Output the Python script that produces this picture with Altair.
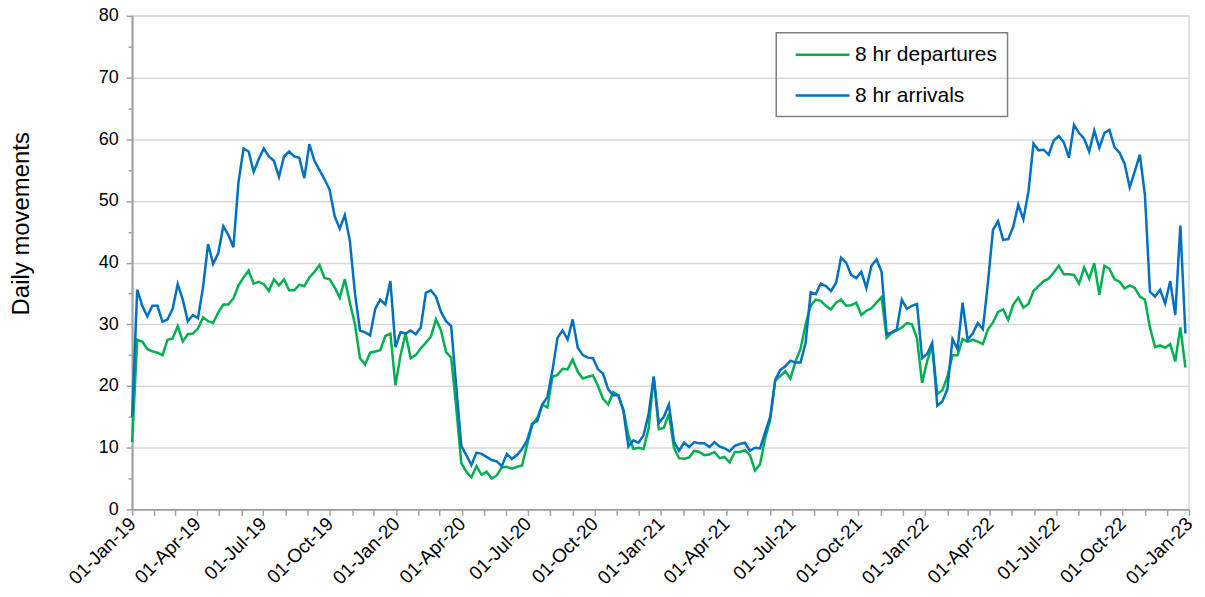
import altair as alt
import pandas as pd

start_date = "2019-01-01"
series_names = ["8 hr departures", "8 hr arrivals"]
series_colors = ["#00B050", "#0070C0"]

# weekly readings (from 01-Jan-2019)
arrivals = [
    15, 35.6, 33, 31.3, 33, 33, 30.4, 30.8, 32.5, 36.5, 34, 30.5, 31.5, 31, 36, 43, 39.8, 41.5, 45.9, 44.5,
    42.5, 53, 58.5, 58, 54.7, 56.8, 58.5, 57.2, 56.5, 53.9, 57.2, 58, 57.2, 57, 53.7, 59.2, 56.5, 55, 53.5, 51.8,
    47.5, 45.5, 47.7, 43.5, 35, 29, 28.7, 28.2, 32.5, 34, 33.2, 37,
    26.3, 28.7, 28.5, 29, 28.4, 29.5, 35.1, 35.5, 34.5, 32, 30.5, 29.7, 20, 10.3, 8.8, 7.2, 9.2, 9,
    8.5, 8, 7.8, 7, 9, 8.2, 8.8, 9.8, 11.2, 13.9, 14.3, 17, 18.2, 22.5, 27.8, 29, 27.5, 30.8, 26.2, 25,
    24.6, 24.5, 22.7, 22, 19.5, 18.5, 18.5, 16, 10.2, 11.2, 10.8, 12, 15.5, 21.5,
    14, 15, 17, 11, 9.5, 10.8, 10.1, 10.9, 10.7, 10.7, 10.1, 10.9, 10.2, 9.9, 9.4, 10.3, 10.6, 10.8, 9.5, 10,
    9.9, 12.5, 15, 21, 22.6, 23.2, 24.1, 23.8, 23.8, 27, 35.2, 34.9, 36.6, 36.2, 35.4, 36.7, 40.8, 40, 38, 37.5,
    38.5, 35.9, 39.5, 40.5, 38.5, 28.4, 28.7, 29.2, 34, 32.5, 33, 33.3,
    24.5, 25.2, 27, 16.8, 17.5, 19.5, 27.6, 26, 33.5, 27.5, 28.5, 30.2, 29.2, 36.7, 45.3, 46.7, 43.7, 43.8, 45.8, 49.4,
    47, 51.5, 59.3, 58.2, 58.3, 57.5, 59.8, 60.5, 59.5, 57, 62.3, 61, 60.1, 58, 61.4, 58.6, 61, 61.5, 58.7, 57.8,
    56, 52.2, 54.8, 57.5, 51, 35.3, 34.5, 35.6, 33.4, 37, 31.5, 46, 28.5,
]
departures = [
    10.9, 27.5, 27.2, 26, 25.6, 25.4, 25, 27.5, 27.7, 29.7, 27.2, 28.4, 28.5, 29.3, 31.1, 30.5, 30.2, 31.9, 33.2, 33.2,
    34.2, 36.3, 37.6, 38.7, 36.6, 36.9, 36.5, 35.4, 37.3, 36.3, 37.3, 35.5, 35.5, 36.4, 36.2, 37.6, 38.5, 39.6, 37.5, 37.3,
    36, 34.3, 37.3, 33.5, 30, 24.5, 23.5, 25.4, 25.6, 25.8, 28.1, 28.5,
    20.1, 25, 28.5, 24.5, 25, 26.1, 27, 28, 30.8, 29, 25.5, 24.6, 16.5, 7.5, 6.1, 5.2, 7, 5.6,
    6.1, 5, 5.5, 6.8, 6.9, 6.6, 6.9, 7.1, 10.5, 13.7, 14.8, 17, 16.5, 21.5, 21.8, 22.8, 22.7, 24.3, 22.3, 21.2,
    21.5, 21.7, 20, 17.9, 17, 19, 18.5, 16.2, 12, 9.8, 10, 9.8, 13.2, 21.5,
    13, 13.2, 15.5, 10, 8.3, 8.2, 8.4, 9.5, 9.3, 8.8, 8.9, 9.3, 8.3, 8.5, 7.6, 9.3, 9.3, 9.6, 8.8, 6.3,
    7.3, 11.5, 14.5, 20.9, 21.6, 22.4, 21.2, 24, 26, 30, 33, 34, 33.8, 33, 32.4, 33.5, 34, 33, 33.1, 33.5,
    31.5, 32.2, 32.6, 33.5, 34.4, 27.8, 28.6, 29, 29.5, 30.2, 30, 27.7,
    20.5, 24, 26.5, 18.7, 19.3, 21.5, 25, 25, 27.6, 27.2, 27.5, 27.2, 26.8, 29.2, 30.3, 32, 32.4, 30.7, 33.2, 34.3,
    32.7, 33.3, 35.4, 36.2, 37, 37.4, 38.4, 39.5, 38.1, 38.1, 38, 36.6, 39.2, 37.4, 39.9, 34.8, 39.5, 39, 37.3, 36.9,
    35.8, 36.3, 35.9, 34.5, 34, 29.5, 26.3, 26.6, 26.2, 26.8, 24, 29.5, 23,
]

y_ticks = list(range(0, 81, 5))
month_ticks = [alt.DateTime(year=2019 + i // 12, month=i % 12 + 1, date=1, utc=True) for i in range(49)]

n_dep = len(departures)
n_arr = len(arrivals)
dates_dep = list(pd.date_range(start_date, periods=n_dep, freq="7D").strftime("%Y-%m-%d"))
dates_arr = list(pd.date_range(start_date, periods=n_arr, freq="7D").strftime("%Y-%m-%d"))

df = pd.DataFrame({
    "date": dates_dep + dates_arr,
    "value": departures + arrivals,
    "series": [series_names[0]] * n_dep + [series_names[1]] * n_arr,
})

AXIS_GREY = "#a0a0a0"
GRID_GREY = "#d9d9d9"

x = alt.X(
    "date:T",
    scale=alt.Scale(
        type="utc",
        domain=[alt.DateTime(year=2019, month=1, date=1, utc=True),
                alt.DateTime(year=2023, month=1, date=1, utc=True)],
    ),
    axis=alt.Axis(
        values=month_ticks,
        labelExpr="utcmonth(datum.value) % 3 == 0 ? utcFormat(datum.value, '%d-%b-%y') : ''",
        labelAngle=-45,
        labelAlign="right",
        labelBaseline="middle",
        labelPadding=5,
        labelFontSize=19,
        labelColor="#000000",
        labelOverlap=False,
        labelFlush=False,
        tickSize=6,
        tickColor=AXIS_GREY,
        tickWidth=1.5,
        domainColor=AXIS_GREY,
        domainWidth=2,
        grid=False,
        title=None,
    ),
)

y = alt.Y(
    "value:Q",
    scale=alt.Scale(domain=[0, 80], nice=False),
    axis=alt.Axis(
        values=y_ticks,
        labelExpr="datum.value % 10 == 0 ? datum.label : ''",
        labelFontSize=18,
        labelColor="#000000",
        labelPadding=8,
        tickSize={"condition": {"test": "datum.value % 10 == 0", "value": 6}, "value": 4},
        tickColor=AXIS_GREY,
        tickWidth=1.5,
        domainColor=AXIS_GREY,
        domainWidth=2,
        grid=True,
        gridColor=GRID_GREY,
        gridWidth=1.5,
        gridOpacity={"condition": {"test": "datum.value % 10 == 0", "value": 1}, "value": 0},
        title="Daily movements",
        titleFontSize=24,
        titleFontWeight="normal",
        titleColor="#000000",
        titleAngle=-90,
        titleAlign="center",
        titleBaseline="middle",
        titleX=-110.7,
        titleY=208,
    ),
)

color = alt.Color(
    "series:N",
    scale=alt.Scale(domain=series_names, range=series_colors),
    legend=alt.Legend(
        title=None,
        orient="none",
        legendX=646,
        legendY=17,
        strokeColor="#7f7f7f",
        padding=10.5,
        symbolType="M-2.7,0H2.7",
        symbolSize=400,
        symbolStrokeWidth=2.5,
        symbolOffset=24.5,
        labelOffset=21,
        labelFontSize=21,
        labelColor="#000000",
        rowPadding=19,
    ),
)

chart = (
    alt.Chart(df)
    .mark_line(strokeWidth=2.5)
    .encode(x=x, y=y, color=color, order=alt.Order("date:T"), detail="series:N")
    .properties(
        width=1060,
        height=495,
        padding={"left": 124.5, "top": 7, "right": 8, "bottom": 78},
        autosize=alt.AutoSizeParams(type="none"),
    )
    .configure(font="Liberation Sans")
    .configure_view(stroke=GRID_GREY, strokeWidth=1.5)
    .configure_legend(strokeWidth=1.5)
)

chart.save("out.html", embed_options={"renderer": "svg", "actions": False})
